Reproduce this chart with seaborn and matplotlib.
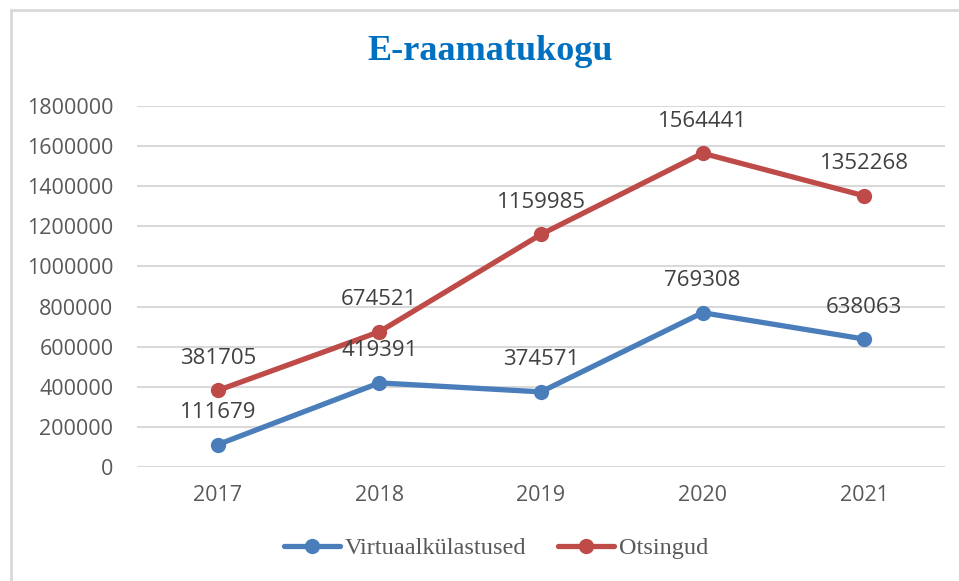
import matplotlib
matplotlib.use("Agg")
import matplotlib.pyplot as plt
import seaborn as sns
import pandas as pd
from matplotlib.lines import Line2D

years = ["2017", "2018", "2019", "2020", "2021"]
virtuaal = [111679, 419391, 374571, 769308, 638063]
otsingud = [381705, 674521, 1159985, 1564441, 1352268]
series_names = ["Virtuaalkülastused", "Otsingud"]
yticks = [0, 200000, 400000, 600000, 800000, 1000000, 1200000, 1400000, 1600000, 1800000]
title = "E-raamatukogu"

colors = ["#4A7EBB", "#BE4B48"]

df = pd.DataFrame({
    "year": years * 2,
    "value": virtuaal + otsingud,
    "series": [series_names[0]] * len(years) + [series_names[1]] * len(years),
})
df["x"] = df["year"].map({y: i for i, y in enumerate(years)})

sns.set_theme(style="white")
plt.rcParams["font.family"] = ["Open Sans", "DejaVu Sans"]

fig = plt.figure(figsize=(9.59, 5.81), dpi=100)
ax = fig.add_axes([137 / 959, 1 - 467 / 581, (945 - 137) / 959, (467 - 106) / 581])

sns.lineplot(data=df, x="x", y="value", hue="series", palette=colors,
             marker="o", markersize=11, linewidth=3.8, markeredgewidth=0,
             legend=False, ax=ax, zorder=3)

ax.set_xlim(-0.5, len(years) - 0.5)
ax.set_ylim(0, 1800000)
ax.set_yticks(yticks)
ax.set_yticklabels([str(v) for v in yticks])
ax.set_xticks(range(len(years)))
ax.set_xticklabels(years)
ax.set_xlabel("")
ax.set_ylabel("")
for s in ax.spines.values():
    s.set_visible(False)
ax.grid(axis="y", color="#D9D9D9", linewidth=1.5, zorder=0)
ax.set_axisbelow(True)
ax.tick_params(axis="both", length=0, labelsize=15.5, labelcolor="#595959")
ax.tick_params(axis="y", pad=17)
ax.tick_params(axis="x", pad=13)

for vals in (virtuaal, otsingud):
    for i, v in enumerate(vals):
        ax.annotate(str(v), (i, v), xytext=(0, 23), textcoords="offset points",
                    ha="center", va="center", fontsize=16, color="#404040", zorder=4)

fig.text(490 / 959, 1 - 52 / 581, title, ha="center", va="center",
         fontsize=26, fontweight="bold", color="#0070C0", family="Liberation Serif")

handles = [Line2D([0], [0], color=c, linewidth=3.8, marker="o", markersize=11,
                  markeredgewidth=0) for c in colors]
fig.legend(handles, series_names, loc="center", bbox_to_anchor=(496 / 959, 1 - 548 / 581),
           ncol=2, frameon=False, handlelength=2.3, handletextpad=0.2, columnspacing=1.3,
           prop={"family": "Liberation Serif", "size": 17.5}, labelcolor="#595959")

# chart border (top and left edges visible)
fig.add_artist(Line2D([11 / 959, 1], [1 - 10 / 581, 1 - 10 / 581], color="#D9D9D9", linewidth=2.0))
fig.add_artist(Line2D([11 / 959, 11 / 959], [0, 1 - 10 / 581], color="#D9D9D9", linewidth=2.0))

fig.savefig("out.png", dpi=100, facecolor="white")
